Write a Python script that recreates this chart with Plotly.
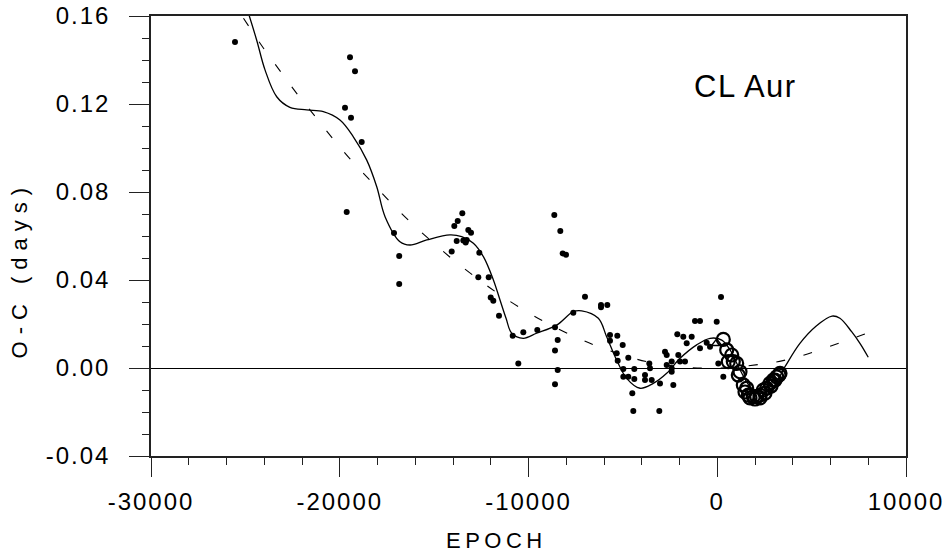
import plotly.graph_objects as go

# ---- data (EPOCH, O-C days) ----
filled_epoch = [-25550, -19457, -19192, -19722, -19404, -18837, -19632, -17126, -16850, -16850,
                -13507, -13751, -13931, -13189, -13046, -13804, -13454, -13274, -13327, -14069,
                -12606, -12659, -12108, -12002, -11865, -11563, -8633, -8315, -8188, -8013,
                -7007, -7627, -6159, -6159, -5825, -10837, -10275, -9534, -8596, -8453,
                -8596, -10540, -8453, -8596, -5682, -5295, -5682, -5009, -5327, -4713,
                -5274, -4977, -4395, -4977, -4713, -4395, -4501, -4448, -3070, -3828,
                -3828, -3473, -3600, -3563, -3033, -2768, -2678, -2678, -2413, -2413,
                -2413, -2328, -2064, -2117, -1799, -1619, -1354, -1974, -1709, -1179,
                -914, -29, -559, -914, -384, 56, 321, 199]
filled_oc = [0.1482, 0.1412, 0.1349, 0.1183, 0.1138, 0.1027, 0.0709, 0.0614, 0.0509, 0.0382,
             0.0703, 0.0668, 0.0645, 0.0627, 0.0615, 0.0577, 0.0579, 0.0582, 0.0570, 0.0529,
             0.0524, 0.0412, 0.0412, 0.0321, 0.0306, 0.0238, 0.0695, 0.0623, 0.0521, 0.0515,
             0.0324, 0.0251, 0.0286, 0.0276, 0.0286, 0.0147, 0.0162, 0.0173, 0.0185, 0.0127,
             0.0079, 0.0021, -0.0009, -0.0074, 0.0150, 0.0147, 0.0124, 0.0105, 0.0067, 0.0047,
             0.0033, -0.0005, -0.0005, -0.0040, -0.0040, -0.0050, -0.0115, -0.0195, -0.0195, -0.0032,
             -0.0055, -0.0055, 0.0021, -0.0001, -0.0070, 0.0074, 0.0059, 0.0014, 0.0029, -0.0001,
             -0.0017, -0.0077, 0.0059, 0.0153, 0.0142, 0.0112, 0.0142, 0.0029, 0.0029, 0.0214,
             0.0214, 0.0210, 0.0115, 0.0090, 0.0097, 0.0021, -0.0040, 0.0323]

open_epoch = [321, 501, 766, 585, 850, 1030, 1205, 1115, 1380, 1560, 1645, 1910, 2090, 2265,
              2440, 2620, 2795, 2970, 3150, 3325, 1470, 1735, 2000, 2265, 2530, 2850, 3060, 3270]
open_oc = [0.0130, 0.0082, 0.0059, 0.0029, 0.0029, 0.0021, -0.0017, -0.0032, -0.0077, -0.0092,
           -0.0123, -0.0130, -0.0130, -0.0123, -0.0100, -0.0092, -0.0070, -0.0055, -0.0040, -0.0024,
           -0.0109, -0.0136, -0.0141, -0.0136, -0.0114, -0.0082, -0.0055, -0.0032]

tri_epoch = [-29]
tri_oc = [0.0112]

fit_epoch = [-24900, -24400, -23960, -23340, -22640, -21750, -20870, -19990, -19280, -18570,
             -18040, -17600, -16810, -16280, -15390, -14160, -13540, -12920, -12390, -11860,
             -11510, -11190, -10890, -10280, -9570, -8510, -7630, -7180, -6300, -5860,
             -5330, -4800, -4090, -3390, -2680, -1970, -1090, -380, 240, 680,
             1210, 1740, 2265, 2970, 3590, 4380, 5230, 6080, 6500, 7120, 7560, 8000]
fit_oc = [0.163, 0.149, 0.1355, 0.1233, 0.1185, 0.1173, 0.1165, 0.1127, 0.1051, 0.0945,
          0.0824, 0.0688, 0.0574, 0.0559, 0.0582, 0.0605, 0.0597, 0.0567, 0.0506, 0.0400,
          0.0309, 0.0226, 0.0158, 0.0135, 0.0158, 0.0195, 0.0256, 0.0260, 0.0226, 0.0142,
          0.0036, -0.0047, -0.0092, -0.0070, -0.0024, 0.0044, 0.0105, 0.0135, 0.0127, 0.0082,
          -0.0009, -0.0085, -0.0115, -0.0085, 0.0006, 0.0112, 0.0190, 0.0236, 0.0226, 0.0165, 0.0112, 0.0049]

trend_epoch = [-25100, -24010, -23130, -22250, -21290, -20360, -19400, -18360, -17340, -16280,
               -15020, -13760, -12480, -11360, -10070, -8830, -7420, -6040, -3520, -520,
               2400, 3990, 6500, 7780, 8000]
trend_oc = [0.159, 0.145, 0.1347, 0.1245, 0.1142, 0.1042, 0.0945, 0.0850, 0.0756, 0.0665,
            0.0567, 0.0476, 0.0392, 0.0324, 0.0255, 0.0195, 0.0137, 0.0089, 0.0025, -0.0001,
            0.0018, 0.0044, 0.0114, 0.0153, 0.0160]

x_ticks = [-30000, -20000, -10000, 0, 10000]
x_labels = ["-30000", "-20000", "-10000", "0", "10000"]
y_ticks = [-0.04, 0.00, 0.04, 0.08, 0.12, 0.16]
y_labels = ["-0.04", "0.00", "0.04", "0.08", "0.12", "0.16"]

FONT = "Liberation Sans, Arial, sans-serif"
LS_TICK = "letter-spacing:2px"

fig = go.Figure()
fig.add_trace(go.Scatter(x=trend_epoch, y=trend_oc, mode="lines",
                         line=dict(color="black", width=1.1, dash="9px,19px"),
                         line_shape="spline", hoverinfo="skip"))
fig.add_trace(go.Scatter(x=fit_epoch, y=fit_oc, mode="lines",
                         line=dict(color="black", width=1.3),
                         line_shape="spline", hoverinfo="skip"))
fig.add_trace(go.Scatter(x=filled_epoch, y=filled_oc, mode="markers",
                         marker=dict(symbol="circle", size=6, color="black")))
fig.add_trace(go.Scatter(x=open_epoch, y=open_oc, mode="markers",
                         marker=dict(symbol="circle-open", size=13, color="black",
                                     line=dict(width=2.2, color="black"))))
fig.add_trace(go.Scatter(x=tri_epoch, y=tri_oc, mode="markers",
                         marker=dict(symbol="triangle-up-open", size=9, color="black",
                                     line=dict(width=1.5, color="black"))))

fig.update_layout(
    width=946, height=559,
    margin=dict(l=151, r=40, t=16, b=103, autoexpand=False),
    paper_bgcolor="white", plot_bgcolor="white",
    showlegend=False,
    font=dict(family=FONT, color="black", size=24),
)
fig.update_xaxes(
    range=[-30000, 10000], showgrid=False, zeroline=False,
    showline=True, linecolor="#222", linewidth=1.5, mirror=True,
    ticks="outside", ticklen=19, tickwidth=1.2, tickcolor="#222",
    tickvals=x_ticks, ticktext=[f'<span style="{LS_TICK}">{t}</span>' for t in x_labels],
    tickfont=dict(family=FONT, size=24, color="black"),
    ticklabelstandoff=4, ticklabeloverflow="allow",
    minor=dict(dtick=2000, tick0=-30000, ticks="outside", ticklen=7, tickwidth=1.2, tickcolor="#222"),
)
fig.update_yaxes(
    range=[-0.04, 0.16], showgrid=False,
    zeroline=True, zerolinecolor="black", zerolinewidth=1.2,
    showline=True, linecolor="#222", linewidth=1.5, mirror=True,
    ticks="outside", ticklen=20, tickwidth=1.2, tickcolor="#222",
    tickvals=y_ticks, ticktext=[f'<span style="{LS_TICK}">{t}</span>' for t in y_labels],
    tickfont=dict(family=FONT, size=24, color="black"),
    ticklabelstandoff=14, ticklabeloverflow="allow",
    minor=dict(dtick=0.01, tick0=0, ticks="outside", ticklen=7, tickwidth=1.2, tickcolor="#222"),
)

fig.add_annotation(text='<span style="letter-spacing:7px">O-C (days)</span>',
                   xref="paper", yref="paper", x=-0.1742, y=0.425,
                   textangle=-90, showarrow=False, xanchor="center", yanchor="middle",
                   font=dict(family=FONT, size=22, color="black"))
fig.add_annotation(text='<span style="letter-spacing:4.5px">EPOCH</span>',
                   xref="paper", yref="paper", x=0.457, y=-0.193,
                   showarrow=False, xanchor="center", yanchor="middle",
                   font=dict(family=FONT, size=22, color="black"))
fig.add_annotation(text='<span style="letter-spacing:1.5px">CL Aur</span>',
                   xref="paper", yref="paper", x=0.716, y=0.84,
                   showarrow=False, xanchor="left", yanchor="middle",
                   font=dict(family=FONT, size=31, color="black"))

# remove the browser's default 8px body margin so the figure fills the window exactly
fig.write_html("out.html",
               config={"displayModeBar": False},
               post_script="document.body.style.margin='0px';document.body.style.overflow='hidden';")
